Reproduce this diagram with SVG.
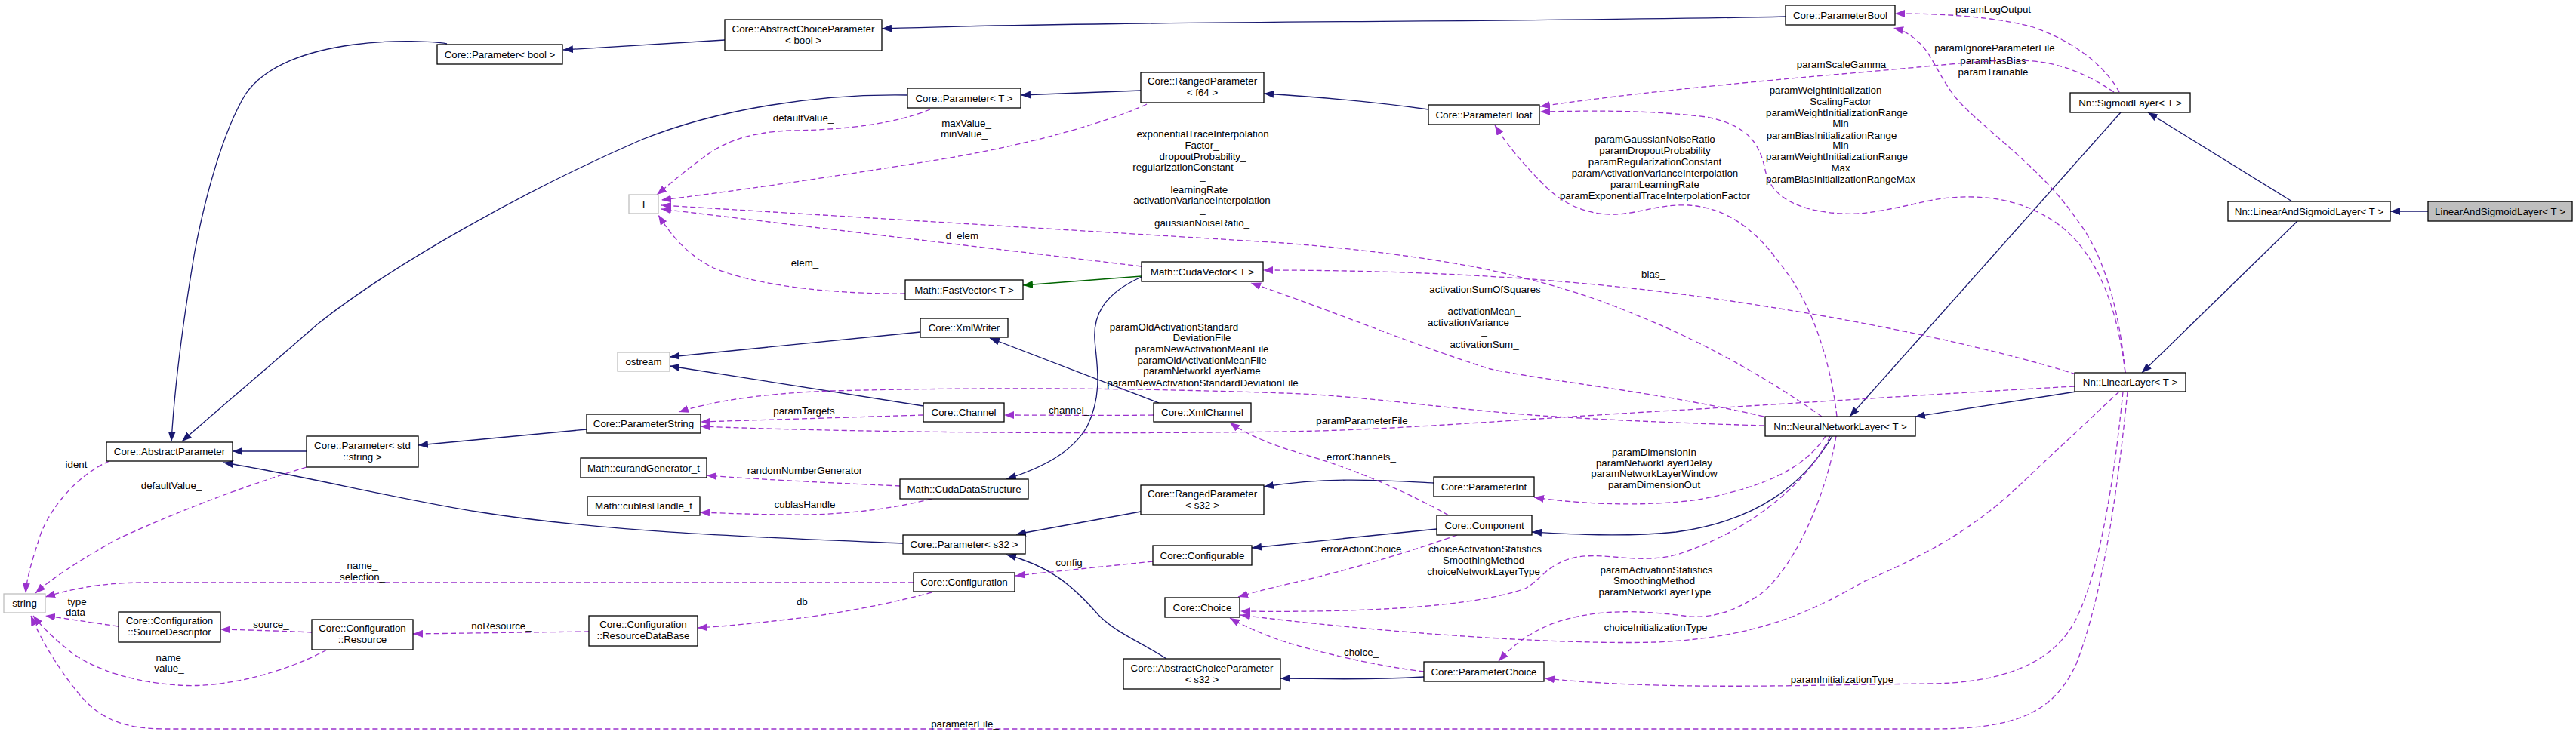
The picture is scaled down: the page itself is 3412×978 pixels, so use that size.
<svg xmlns="http://www.w3.org/2000/svg" width="3412" height="978" viewBox="0 0 3412 978">
<style>
text { font-family: "Liberation Sans", Arial, Helvetica, sans-serif; font-size: 13.33px; fill: #000; text-anchor: middle; }
.box { fill: #fff; stroke: #000; stroke-width: 1.3; }
.ext { fill: #fff; stroke: #bfbfbf; stroke-width: 1.3; }
.main { fill: #bfbfbf; stroke: #000; stroke-width: 1.3; }
.inh { fill: none; stroke: #191970; stroke-width: 1.3; marker-end: url(#aS); }
.prot { fill: none; stroke: #006400; stroke-width: 1.3; marker-end: url(#aG); }
.use { fill: none; stroke: #9a32cd; stroke-width: 1.3; stroke-dasharray: 7,4; marker-end: url(#aD); }
</style>
<defs>
<marker id="aS" markerUnits="userSpaceOnUse" markerWidth="14" markerHeight="10" refX="13" refY="5" orient="auto"><path d="M0,0 L13,5 L0,10 Z" fill="#191970"/></marker>
<marker id="aD" markerUnits="userSpaceOnUse" markerWidth="14" markerHeight="10" refX="13" refY="5" orient="auto"><path d="M0,0 L13,5 L0,10 Z" fill="#9a32cd"/></marker>
<marker id="aG" markerUnits="userSpaceOnUse" markerWidth="14" markerHeight="10" refX="13" refY="5" orient="auto"><path d="M0,0 L13,5 L0,10 Z" fill="#006400"/></marker>
</defs>
<rect x="0" y="0" width="3412" height="978" fill="#fff"/>

<g id="connectors">
<!-- inheritance -->
<path class="inh" d="M592,58 C560,52 380,45 325,125 C295,175 272,260 258,333 C245,410 232,500 227,585"/>
<path class="inh" d="M960,53 L746,66"/>
<path class="inh" d="M2365,22 C2000,30 1500,27 1168,38"/>
<path class="inh" d="M1202,126 C1080,124 950,145 850,185 C700,250 520,350 420,430 C340,500 280,550 241,585"/>
<path class="inh" d="M1511,120 L1352,126"/>
<path class="inh" d="M1892,145 C1820,135 1740,128 1674,124"/>
<path class="inh" d="M406,598 L308,598"/>
<path class="inh" d="M777,569 L554,590"/>
<path class="inh" d="M1196,720 C1000,712 800,705 631,678 C520,660 400,630 296,613"/>
<path class="inh" d="M1511,678 L1346,708"/>
<path class="inh" d="M1545,873 C1510,850 1480,840 1455,815 C1420,775 1390,750 1333,735"/>
<path class="inh" d="M1899,640 C1820,636 1760,632 1674,645"/>
<path class="inh" d="M1903,701 L1658,726"/>
<path class="inh" d="M1886,897 C1800,902 1750,899 1696,899"/>
<path class="inh" d="M2427,578 C2390,640 2330,690 2220,705 C2150,712 2080,708 2029,705"/>
<path class="inh" d="M2750,519 L2537,552"/>
<path class="inh" d="M2809,149 L2450,552"/>
<path class="inh" d="M3036,267 L2845,149"/>
<path class="inh" d="M3043,293 L2837,494"/>
<path class="inh" d="M3216,280 L3166,280"/>
<path class="inh" d="M1219,440 L887,473"/>
<path class="inh" d="M1223,538 L887,485"/>
<path class="inh" d="M1535,534 L1311,448"/>
<path class="inh" d="M1512,367 C1460,390 1448,420 1450,450 C1452,480 1462,520 1440,565 C1420,600 1380,620 1333,635"/>
<path class="prot" d="M1512,366 L1355,378"/>

<!-- usage -->
<g><path class="use" d="M145,611 C100,630 60,680 50,720 C40,750 35,770 34,786"/><text x="101" y="619.5">ident</text></g>
<g><path class="use" d="M406,619 C320,645 230,680 154,715 C110,740 70,765 47,786"/><text x="227" y="647.5">defaultValue_</text></g>
<g><path class="use" d="M1210,772 L192,772 C130,772 90,782 60,791"/><text><tspan x="480" y="753.5">name_</tspan><tspan x="480" y="768.5">selection_</tspan></text></g>
<g><path class="use" d="M157,830 C120,825 90,820 60,816"/><text><tspan x="102" y="801.5">type</tspan><tspan x="100" y="815.5">data</tspan></text></g>
<g><path class="use" d="M433,861 C370,895 290,912 236,908 C180,904 130,890 95,865 C70,845 55,830 44,816"/><text><tspan x="227" y="875.5">name_</tspan><tspan x="224" y="889.5">value_</tspan></text></g>
<g><path class="use" d="M2818,519 C2805,650 2785,790 2750,880 C2720,945 2670,966 2560,966 L219,966 C160,966 130,950 105,920 C80,890 55,850 41,816"/><text x="1278" y="963.5">parameterFile_</text></g>
<g><path class="use" d="M2812,519 C2800,640 2780,760 2750,820 C2720,880 2650,906 2552,906 C2380,908 2200,915 2046,899"/><text x="2440" y="904.5">paramInitializationType</text></g>
<g><path class="use" d="M2807,519 L2662,655 C2600,710 2540,740 2468,771 C2400,810 2330,845 2194,851 C2050,855 1800,835 1643,815"/><text x="2193" y="835.5">choiceInitializationType</text></g>
<g><path class="use" d="M2807,122 C2790,90 2750,55 2690,35 C2630,20 2560,18 2510,18"/><text x="2640" y="16.5">paramLogOutput</text></g>
<g><path class="use" d="M2815,494 C2808,420 2790,340 2750,290 C2710,230 2640,180 2600,140 C2570,110 2560,70 2540,55 C2530,45 2520,40 2508,37"/><text><tspan x="2642" y="67.5">paramIgnoreParameterFile</tspan><tspan x="2640" y="84.5">paramHasBias</tspan><tspan x="2640" y="99.5">paramTrainable</tspan></text></g>
<g><path class="use" d="M2800,122 C2760,95 2720,80 2673,80 C2620,80 2580,86 2440,98 C2300,110 2150,125 2040,141"/><text x="2439" y="89.5">paramScaleGamma</text></g>
<g><path class="use" d="M2815,494 C2805,410 2780,340 2730,300 C2680,262 2620,255 2560,265 C2500,278 2470,285 2440,283 C2380,280 2345,260 2338,225 C2330,185 2310,165 2260,155 C2180,145 2100,147 2040,148"/><text><tspan x="2418" y="123.5">paramWeightInitialization</tspan><tspan x="2438" y="138.5">ScalingFactor</tspan><tspan x="2433" y="153.5">paramWeightInitializationRange</tspan><tspan x="2438" y="167.5">Min</tspan><tspan x="2426" y="183.5">paramBiasInitializationRange</tspan><tspan x="2438" y="196.5">Min</tspan><tspan x="2433" y="211.5">paramWeightInitializationRange</tspan><tspan x="2438" y="226.5">Max</tspan><tspan x="2438" y="241.5">paramBiasInitializationRangeMax</tspan></text></g>
<g><path class="use" d="M2433,552 C2425,480 2400,400 2358,350 C2330,310 2290,275 2237,272 C2200,270 2170,283 2140,284 C2100,285 2070,270 2045,245 C2015,215 1995,190 1980,166"/><text><tspan x="2192" y="188.5">paramGaussianNoiseRatio</tspan><tspan x="2192" y="203.5">paramDropoutProbability</tspan><tspan x="2192" y="218.5">paramRegularizationConstant</tspan><tspan x="2192" y="233.5">paramActivationVarianceInterpolation</tspan><tspan x="2192" y="248.5">paramLearningRate</tspan><tspan x="2192" y="263.5">paramExponentialTraceInterpolationFactor</tspan></text></g>
<g><path class="use" d="M2413,552 C2340,500 2250,450 2166,417 C2090,385 2030,370 1960,355 C1880,340 1800,330 1700,322 L876,272"/><text><tspan x="1593" y="181.5">exponentialTraceInterpolation</tspan><tspan x="1592" y="196.5">Factor_</tspan><tspan x="1593" y="211.5">dropoutProbability_</tspan><tspan x="1567" y="225.5">regularizationConstant</tspan><tspan x="1593" y="238">_</tspan><tspan x="1592" y="255.5">learningRate_</tspan><tspan x="1592" y="269.5">activationVarianceInterpolation</tspan><tspan x="1593" y="282">_</tspan><tspan x="1592" y="299.5">gaussianNoiseRatio_</tspan></text></g>
<g><path class="use" d="M2336,552 C2200,520 2050,505 1974,489 C1880,460 1760,410 1657,375"/><text><tspan x="1967" y="387.5">activationSumOfSquares</tspan><tspan x="1966" y="399">_</tspan><tspan x="1966" y="416.5">activationMean_</tspan><tspan x="1945" y="431.5">activationVariance</tspan><tspan x="1966" y="443">_</tspan><tspan x="1966" y="460.5">activationSum_</tspan></text></g>
<g><path class="use" d="M2750,496 C2650,465 2500,430 2300,400 C2100,370 1900,358 1673,358"/><text x="2190" y="367.5">bias_</text></g>
<g><path class="use" d="M1512,353 L876,277"/><text x="1278" y="316.5">d_elem_</text></g>
<g><path class="use" d="M1199,389 C1100,390 1000,378 945,355 C905,335 885,305 872,285"/><text x="1066" y="352.5">elem_</text></g>
<g><path class="use" d="M1232,145 C1190,162 1130,172 1047,173 C990,175 955,190 930,210 C900,232 880,250 870,258"/><text x="1064" y="160.5">defaultValue_</text></g>
<g><path class="use" d="M1519,138 C1460,165 1350,195 1234,213 C1100,235 960,255 876,265"/><text><tspan x="1280" y="167.5">maxValue_</tspan><tspan x="1277" y="181.5">minValue_</tspan></text></g>
<g><path class="use" d="M1223,550 L928,559"/><text x="1065" y="548.5">paramTargets</text></g>
<g><path class="use" d="M1528,550 C1460,551 1390,550 1330,550"/><text x="1416" y="548">channel_</text></g>
<g><path class="use" d="M2748,512 C2600,520 2400,533 2250,542 C2000,556 1850,570 1700,572 C1400,576 1100,572 928,565"/><text x="1804" y="561.5">paramParameterFile</text></g>
<g><path class="use" d="M2337,564 C2200,560 2100,555 2029,550 C1900,540 1800,524 1700,521 C1500,514 1300,513 1100,518 C1000,522 940,533 899,546"/><text><tspan x="1555" y="437.5">paramOldActivationStandard</tspan><tspan x="1592" y="451.5">DeviationFile</tspan><tspan x="1592" y="466.5">paramNewActivationMeanFile</tspan><tspan x="1592" y="481.5">paramOldActivationMeanFile</tspan><tspan x="1592" y="495.5">paramNetworkLayerName</tspan><tspan x="1593" y="511.5">paramNewActivationStandardDeviationFile</tspan></text></g>
<g><path class="use" d="M1919,683 C1860,650 1790,620 1720,600 C1680,588 1650,575 1629,560"/><text x="1803" y="609.5">errorChannels_</text></g>
<g><path class="use" d="M1930,709 C1870,730 1790,755 1710,773 C1680,780 1660,785 1640,791"/><text x="1803" y="731.5">errorActionChoice</text></g>
<g><path class="use" d="M2424,578 C2400,630 2330,700 2221,735 C2170,748 2130,732 2090,738 C2050,745 2040,770 2020,780 C1950,805 1800,812 1643,810"/><text><tspan x="1967" y="731.5">choiceActivationStatistics</tspan><tspan x="1965" y="746.5">SmoothingMethod</tspan><tspan x="1965" y="761.5">choiceNetworkLayerType</tspan></text></g>
<g><path class="use" d="M1886,890 C1820,882 1750,865 1700,850 C1670,840 1645,828 1629,819"/><text x="1803" y="868.5">choice_</text></g>
<g><path class="use" d="M2432,578 C2420,650 2380,750 2331,788 C2290,815 2260,820 2230,816 C2180,810 2120,805 2060,825 C2020,840 2000,860 1985,876"/><text><tspan x="2194" y="759.5">paramActivationStatistics</tspan><tspan x="2191" y="773.5">SmoothingMethod</tspan><tspan x="2192" y="788.5">paramNetworkLayerType</tspan></text></g>
<g><path class="use" d="M2418,578 C2390,620 2340,645 2250,662 C2180,672 2090,668 2032,659"/><text><tspan x="2191" y="603.5">paramDimensionIn</tspan><tspan x="2191" y="617.5">paramNetworkLayerDelay</tspan><tspan x="2191" y="631.5">paramNetworkLayerWindow</tspan><tspan x="2191" y="646.5">paramDimensionOut</tspan></text></g>
<g><path class="use" d="M1192,644 C1100,640 1000,635 936,630"/><text x="1066" y="627.5">randomNumberGenerator</text></g>
<g><path class="use" d="M1234,661 C1180,675 1110,683 1050,682 C1000,682 960,680 927,679"/><text x="1066" y="672.5">cublasHandle</text></g>
<g><path class="use" d="M1527,744 C1450,752 1400,757 1345,763"/><text x="1416" y="749.5">config</text></g>
<g><path class="use" d="M1234,785 C1180,800 1100,815 1050,820 C1000,826 960,830 924,832"/><text x="1066" y="801.5">db_</text></g>
<g><path class="use" d="M780,837 C700,838 620,839 547,840"/><text x="664" y="833.5">noResource_</text></g>
<g><path class="use" d="M413,838 C370,836 330,835 292,834"/><text x="359" y="831.5">source_</text></g>
</g>

<g id="n_paramBool"><rect class="box" x="579" y="59" width="166" height="26"/><text x="662" y="76.5">Core::Parameter&lt; bool &gt;</text></g>
<g id="n_acpBool"><rect class="box" x="960" y="26" width="208" height="41"/><text><tspan x="1064" y="43">Core::AbstractChoiceParameter</tspan><tspan x="1064" y="58">&lt; bool &gt;</tspan></text></g>
<g id="n_parameterBool"><rect class="box" x="2365" y="7" width="145" height="26"/><text x="2437.5" y="24.5">Core::ParameterBool</text></g>
<g id="n_paramT"><rect class="box" x="1202" y="117" width="150" height="26"/><text x="1277" y="134.5">Core::Parameter&lt; T &gt;</text></g>
<g id="n_rpF64"><rect class="box" x="1511" y="96" width="163" height="40"/><text><tspan x="1592.5" y="111.5">Core::RangedParameter</tspan><tspan x="1592.5" y="127">&lt; f64 &gt;</tspan></text></g>
<g id="n_paramFloat"><rect class="box" x="1892" y="139" width="147" height="26"/><text x="1965.5" y="156.5">Core::ParameterFloat</text></g>
<g id="n_T"><rect class="ext" x="833" y="258" width="39" height="25"/><text x="852.5" y="275">T</text></g>
<g id="n_cudaVector"><rect class="box" x="1512" y="347" width="161" height="26"/><text x="1592.5" y="364.5">Math::CudaVector&lt; T &gt;</text></g>
<g id="n_fastVector"><rect class="box" x="1199" y="371" width="156" height="26"/><text x="1277" y="388.5">Math::FastVector&lt; T &gt;</text></g>
<g id="n_xmlWriter"><rect class="box" x="1219" y="422" width="116" height="25"/><text x="1277" y="439">Core::XmlWriter</text></g>
<g id="n_ostream"><rect class="ext" x="818" y="467" width="69" height="25"/><text x="852.5" y="484">ostream</text></g>
<g id="n_abstractParam"><rect class="box" x="141" y="586" width="167" height="25"/><text x="224.5" y="603">Core::AbstractParameter</text></g>
<g id="n_paramStdString"><rect class="box" x="406" y="578" width="148" height="41"/><text><tspan x="480" y="594.5">Core::Parameter&lt; std</tspan><tspan x="480" y="609.5">::string &gt;</tspan></text></g>
<g id="n_paramString"><rect class="box" x="777" y="549" width="151" height="25"/><text x="852.5" y="566">Core::ParameterString</text></g>
<g id="n_channel"><rect class="box" x="1223" y="534" width="107" height="25"/><text x="1276.5" y="551">Core::Channel</text></g>
<g id="n_xmlChannel"><rect class="box" x="1528" y="534" width="129" height="25"/><text x="1592.5" y="551">Core::XmlChannel</text></g>
<g id="n_curand"><rect class="box" x="769" y="607" width="167" height="26"/><text x="852.5" y="624.5">Math::curandGenerator_t</text></g>
<g id="n_cublas"><rect class="box" x="778" y="658" width="149" height="25"/><text x="852.5" y="675">Math::cublasHandle_t</text></g>
<g id="n_cudaDS"><rect class="box" x="1192" y="635" width="170" height="26"/><text x="1277" y="652.5">Math::CudaDataStructure</text></g>
<g id="n_rpS32"><rect class="box" x="1511" y="643" width="163" height="39"/><text><tspan x="1592.5" y="658.5">Core::RangedParameter</tspan><tspan x="1592.5" y="673.5">&lt; s32 &gt;</tspan></text></g>
<g id="n_paramS32"><rect class="box" x="1196" y="709" width="162" height="25"/><text x="1277" y="726">Core::Parameter&lt; s32 &gt;</text></g>
<g id="n_configurable"><rect class="box" x="1527" y="723" width="131" height="26"/><text x="1592.5" y="740.5">Core::Configurable</text></g>
<g id="n_configuration"><rect class="box" x="1210" y="759" width="134" height="25"/><text x="1277" y="776">Core::Configuration</text></g>
<g id="n_choice"><rect class="box" x="1543" y="792" width="99" height="26"/><text x="1592.5" y="809.5">Core::Choice</text></g>
<g id="n_rdb"><rect class="box" x="780" y="816" width="144" height="40"/><text><tspan x="852" y="831.5">Core::Configuration</tspan><tspan x="852" y="846.5">::ResourceDataBase</tspan></text></g>
<g id="n_acpS32"><rect class="box" x="1488" y="873" width="208" height="40"/><text><tspan x="1592" y="889.5">Core::AbstractChoiceParameter</tspan><tspan x="1592" y="904.5">&lt; s32 &gt;</tspan></text></g>
<g id="n_string"><rect class="ext" x="5" y="787" width="55" height="25"/><text x="32.5" y="804">string</text></g>
<g id="n_srcDesc"><rect class="box" x="157" y="811" width="135" height="40"/><text><tspan x="224.5" y="826.5">Core::Configuration</tspan><tspan x="224.5" y="841.5">::SourceDescriptor</tspan></text></g>
<g id="n_resource"><rect class="box" x="413" y="821" width="134" height="40"/><text><tspan x="480" y="836.5">Core::Configuration</tspan><tspan x="480" y="851.5">::Resource</tspan></text></g>
<g id="n_nnl"><rect class="box" x="2338" y="552" width="199" height="26"/><text x="2437.5" y="569.5">Nn::NeuralNetworkLayer&lt; T &gt;</text></g>
<g id="n_paramInt"><rect class="box" x="1899" y="632" width="133" height="26"/><text x="1965.5" y="649.5">Core::ParameterInt</text></g>
<g id="n_component"><rect class="box" x="1903" y="683" width="126" height="26"/><text x="1966" y="700.5">Core::Component</text></g>
<g id="n_paramChoice"><rect class="box" x="1886" y="877" width="159" height="26"/><text x="1965.5" y="894.5">Core::ParameterChoice</text></g>
<g id="n_sigmoid"><rect class="box" x="2742" y="123" width="159" height="26"/><text x="2821.5" y="140.5">Nn::SigmoidLayer&lt; T &gt;</text></g>
<g id="n_lasl"><rect class="box" x="2951" y="267" width="215" height="26"/><text x="3058.5" y="284.5">Nn::LinearAndSigmoidLayer&lt; T &gt;</text></g>
<g id="n_main"><rect class="main" x="3216" y="267" width="191" height="26"/><text x="3311.5" y="284.5">LinearAndSigmoidLayer&lt; T &gt;</text></g>
<g id="n_linear"><rect class="box" x="2748" y="494" width="147" height="25"/><text x="2821.5" y="511">Nn::LinearLayer&lt; T &gt;</text></g>
</svg>
